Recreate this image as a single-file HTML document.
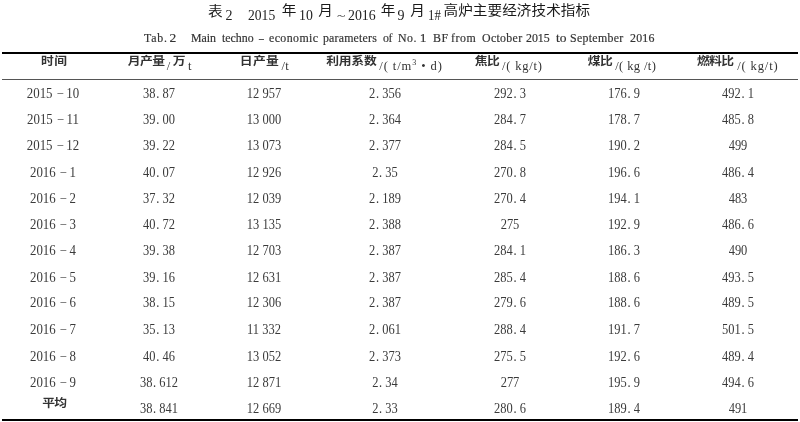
<!DOCTYPE html>
<html><head><meta charset="utf-8">
<style>
html,body{margin:0;padding:0;background:#fff;width:800px;height:422px;overflow:hidden;position:relative}
#w{position:absolute;left:0;top:0;width:800px;height:422px;filter:blur(0.4px)}
.n{position:absolute;width:120px;text-align:center;font-family:"Liberation Serif",serif;font-size:14px;line-height:14px;color:#3a3a3a;white-space:pre;transform:scale(0.89,1.0);letter-spacing:0px;text-indent:0px}
.n1{transform:scale(0.92,0.97);letter-spacing:0px;text-indent:0px}
.a{position:absolute;white-space:pre;line-height:1;transform-origin:0 0}
.rule{position:absolute;left:2px;width:796px;background:#000}
s{text-decoration:none;font-size:12.5px;position:relative;top:-2.0px;margin-left:1.8px;margin-right:0.0px}
i{font-style:normal;margin-left:0.8px}
sup{font-size:8px;vertical-align:5px;line-height:0}
</style></head><body><div id="w">
<div class="rule" style="top:52px;height:2px"></div>
<div class="rule" style="top:79px;height:1px;background:#555"></div>
<div class="rule" style="top:419px;height:2px"></div>
<span class="a" style="left:207.95px;top:4.80px;font-family:'Liberation Sans','Noto Sans CJK SC',sans-serif;font-size:14.6px;font-weight:400;color:#1a1a1a;transform:scale(1.000,0.900);">表</span>
<span class="a" style="left:225.45px;top:8.80px;font-family:'Liberation Serif',serif;font-size:14px;color:#222;">2</span>
<span class="a" style="left:248.20px;top:8.80px;font-family:'Liberation Serif',serif;font-size:14px;color:#222;transform:scale(0.971,1.000);">2015</span>
<span class="a" style="left:281.75px;top:4.20px;font-family:'Liberation Sans','Noto Sans CJK SC',sans-serif;font-size:14.6px;font-weight:400;color:#1a1a1a;transform:scale(1.000,0.900);">年</span>
<span class="a" style="left:299.22px;top:8.80px;font-family:'Liberation Serif',serif;font-size:14px;color:#222;transform:scale(0.985,1.000);">10</span>
<span class="a" style="left:318.30px;top:3.90px;font-family:'Liberation Sans','Noto Sans CJK SC',sans-serif;font-size:14.6px;font-weight:400;color:#1a1a1a;transform:scale(1.000,0.900);">月</span>
<span class="a" style="left:337.00px;top:11.00px;font-family:'Liberation Serif',serif;font-size:10px;color:#222;transform:scale(1.560,1.000);">~</span>
<span class="a" style="left:347.70px;top:8.80px;font-family:'Liberation Serif',serif;font-size:14px;color:#222;transform:scale(0.989,1.000);">2016</span>
<span class="a" style="left:380.80px;top:4.20px;font-family:'Liberation Sans','Noto Sans CJK SC',sans-serif;font-size:14.6px;font-weight:400;color:#1a1a1a;transform:scale(1.000,0.900);">年</span>
<span class="a" style="left:397.45px;top:8.80px;font-family:'Liberation Serif',serif;font-size:14px;color:#222;">9</span>
<span class="a" style="left:410.25px;top:3.90px;font-family:'Liberation Sans','Noto Sans CJK SC',sans-serif;font-size:14.6px;font-weight:400;color:#1a1a1a;transform:scale(1.000,0.900);">月</span>
<span class="a" style="left:427.98px;top:8.80px;font-family:'Liberation Serif',serif;font-size:14px;color:#222;transform:scale(0.915,1.000);">1#</span>
<span class="a" style="left:443.50px;top:4.10px;font-family:'Liberation Sans','Noto Sans CJK SC',sans-serif;font-size:14.6px;font-weight:400;color:#1a1a1a;letter-spacing:0.07px;transform:scale(1.000,0.900);">高炉主要经济技术指标</span>
<span class="a" style="left:143.56px;top:30.90px;font-family:'Liberation Serif',serif;font-size:13.5px;color:#333;-webkit-text-stroke:0.2px #333;letter-spacing:0.89px;transform:scale(0.880,1.000);">Tab.</span>
<span class="a" style="left:169.50px;top:30.90px;font-family:'Liberation Serif',serif;font-size:13.5px;color:#333;-webkit-text-stroke:0.2px #333;">2</span>
<span class="a" style="left:191.18px;top:30.90px;font-family:'Liberation Serif',serif;font-size:13.5px;color:#333;-webkit-text-stroke:0.2px #333;letter-spacing:-0.02px;transform:scale(0.880,1.000);">Main</span>
<span class="a" style="left:222.16px;top:30.90px;font-family:'Liberation Serif',serif;font-size:13.5px;color:#333;-webkit-text-stroke:0.2px #333;letter-spacing:-0.02px;transform:scale(0.880,1.000);">techno</span>
<span class="a" style="left:259.20px;top:30.90px;font-family:'Liberation Serif',serif;font-size:13.5px;color:#333;-webkit-text-stroke:0.2px #333;transform:scale(0.714,1.000);">&#8211;</span>
<span class="a" style="left:268.86px;top:30.90px;font-family:'Liberation Serif',serif;font-size:13.5px;color:#333;-webkit-text-stroke:0.2px #333;letter-spacing:0.46px;transform:scale(0.880,1.000);">economic</span>
<span class="a" style="left:323.16px;top:30.90px;font-family:'Liberation Serif',serif;font-size:13.5px;color:#333;-webkit-text-stroke:0.2px #333;letter-spacing:0.21px;transform:scale(0.880,1.000);">parameters</span>
<span class="a" style="left:382.96px;top:30.90px;font-family:'Liberation Serif',serif;font-size:13.5px;color:#333;-webkit-text-stroke:0.2px #333;letter-spacing:-0.64px;transform:scale(0.880,1.000);">of</span>
<span class="a" style="left:398.20px;top:30.90px;font-family:'Liberation Serif',serif;font-size:13.5px;color:#333;-webkit-text-stroke:0.2px #333;letter-spacing:0.50px;transform:scale(0.880,1.000);">No.</span>
<span class="a" style="left:419.70px;top:30.90px;font-family:'Liberation Serif',serif;font-size:13.5px;color:#333;-webkit-text-stroke:0.2px #333;">1</span>
<span class="a" style="left:432.52px;top:30.90px;font-family:'Liberation Serif',serif;font-size:13.5px;color:#333;-webkit-text-stroke:0.2px #333;letter-spacing:0.73px;transform:scale(0.880,1.000);">BF</span>
<span class="a" style="left:451.24px;top:30.90px;font-family:'Liberation Serif',serif;font-size:13.5px;color:#333;-webkit-text-stroke:0.2px #333;letter-spacing:0.61px;transform:scale(0.880,1.000);">from</span>
<span class="a" style="left:482.06px;top:30.90px;font-family:'Liberation Serif',serif;font-size:13.5px;color:#333;-webkit-text-stroke:0.2px #333;letter-spacing:0.36px;transform:scale(0.880,1.000);">October</span>
<span class="a" style="left:526.12px;top:30.90px;font-family:'Liberation Serif',serif;font-size:13.5px;color:#333;-webkit-text-stroke:0.2px #333;letter-spacing:-0.06px;transform:scale(0.880,1.000);">2015</span>
<span class="a" style="left:556.00px;top:30.90px;font-family:'Liberation Serif',serif;font-size:13.5px;color:#333;-webkit-text-stroke:0.2px #333;">to</span>
<span class="a" style="left:570.22px;top:30.90px;font-family:'Liberation Serif',serif;font-size:13.5px;color:#333;-webkit-text-stroke:0.2px #333;letter-spacing:0.35px;transform:scale(0.880,1.000);">September</span>
<span class="a" style="left:629.78px;top:30.90px;font-family:'Liberation Serif',serif;font-size:13.5px;color:#333;-webkit-text-stroke:0.2px #333;letter-spacing:0.24px;transform:scale(0.880,1.000);">2016</span>
<span class="a" style="left:40.90px;top:56.17px;font-family:'Liberation Sans','Noto Sans CJK SC',sans-serif;font-size:12.8px;font-weight:700;color:#333;letter-spacing:0.60px;transform:scale(1.000,0.870);">时间</span>
<span class="a" style="left:127.85px;top:56.17px;font-family:'Liberation Sans','Noto Sans CJK SC',sans-serif;font-size:12.8px;font-weight:700;color:#333;letter-spacing:-0.55px;transform:scale(1.000,0.870);">月产量</span>
<span class="a" style="left:166.75px;top:60.40px;font-family:'Liberation Serif',serif;font-size:12.5px;color:#333;">/</span>
<span class="a" style="left:172.70px;top:55.50px;font-family:'Liberation Sans','Noto Sans CJK SC',sans-serif;font-size:12.8px;font-weight:700;color:#333;transform:scale(1.000,0.870);">万</span>
<span class="a" style="left:188.00px;top:60.40px;font-family:'Liberation Serif',serif;font-size:12.5px;color:#333;">t</span>
<span class="a" style="left:239.85px;top:56.17px;font-family:'Liberation Sans','Noto Sans CJK SC',sans-serif;font-size:12.8px;font-weight:700;color:#333;letter-spacing:0.25px;transform:scale(1.000,0.870);">日产量</span>
<span class="a" style="left:281.40px;top:60.40px;font-family:'Liberation Serif',serif;font-size:12.5px;color:#333;letter-spacing:0.40px;">/t</span>
<span class="a" style="left:326.30px;top:56.27px;font-family:'Liberation Sans','Noto Sans CJK SC',sans-serif;font-size:12.8px;font-weight:700;color:#333;letter-spacing:-0.27px;transform:scale(1.000,0.870);">利用系数</span>
<span class="a" style="left:379.25px;top:60.40px;font-family:'Liberation Serif',serif;font-size:12.5px;color:#333;letter-spacing:0.92px;">/( t/m<sup>3</sup> • d)</span>
<span class="a" style="left:474.85px;top:56.07px;font-family:'Liberation Sans','Noto Sans CJK SC',sans-serif;font-size:12.8px;font-weight:700;color:#333;letter-spacing:-0.70px;transform:scale(1.000,0.870);">焦比</span>
<span class="a" style="left:502.00px;top:60.40px;font-family:'Liberation Serif',serif;font-size:12.5px;color:#333;letter-spacing:0.80px;">/( kg/t)</span>
<span class="a" style="left:587.85px;top:56.07px;font-family:'Liberation Sans','Noto Sans CJK SC',sans-serif;font-size:12.8px;font-weight:700;color:#333;letter-spacing:-0.70px;transform:scale(1.000,0.870);">煤比</span>
<span class="a" style="left:615.25px;top:60.40px;font-family:'Liberation Serif',serif;font-size:12.5px;color:#333;letter-spacing:0.39px;">/( kg /t)</span>
<span class="a" style="left:697.00px;top:56.07px;font-family:'Liberation Sans','Noto Sans CJK SC',sans-serif;font-size:12.8px;font-weight:700;color:#333;letter-spacing:-0.70px;transform:scale(1.000,0.870);">燃料比</span>
<span class="a" style="left:737.25px;top:60.40px;font-family:'Liberation Serif',serif;font-size:12.5px;color:#333;letter-spacing:0.87px;">/( kg/t)</span>
<span class="a" style="left:42.20px;top:397.97px;font-family:'Liberation Sans','Noto Sans CJK SC',sans-serif;font-size:12.8px;font-weight:700;color:#333;letter-spacing:-0.80px;transform:scale(1.000,0.870);">平均</span>
<div class="n n1" style="left:-6.70px;top:86.50px">2015 <s>&#8211;</s> 10</div>
<div class="n" style="left:98.50px;top:86.50px">38<i>.</i> 87</div>
<div class="n" style="left:204.00px;top:86.50px">12 957</div>
<div class="n" style="left:324.50px;top:86.50px">2<i>.</i> 356</div>
<div class="n" style="left:449.50px;top:86.50px">292<i>.</i> 3</div>
<div class="n" style="left:563.90px;top:86.50px">176<i>.</i> 9</div>
<div class="n" style="left:678.00px;top:86.50px">492<i>.</i> 1</div>
<div class="n n1" style="left:-6.70px;top:113.10px">2015 <s>&#8211;</s> 11</div>
<div class="n" style="left:98.50px;top:113.10px">39<i>.</i> 00</div>
<div class="n" style="left:204.00px;top:113.10px">13 000</div>
<div class="n" style="left:324.50px;top:113.10px">2<i>.</i> 364</div>
<div class="n" style="left:449.50px;top:113.10px">284<i>.</i> 7</div>
<div class="n" style="left:563.90px;top:113.10px">178<i>.</i> 7</div>
<div class="n" style="left:678.00px;top:113.10px">485<i>.</i> 8</div>
<div class="n n1" style="left:-6.70px;top:138.90px">2015 <s>&#8211;</s> 12</div>
<div class="n" style="left:98.50px;top:138.90px">39<i>.</i> 22</div>
<div class="n" style="left:204.00px;top:138.90px">13 073</div>
<div class="n" style="left:324.50px;top:138.90px">2<i>.</i> 377</div>
<div class="n" style="left:449.50px;top:138.90px">284<i>.</i> 5</div>
<div class="n" style="left:563.90px;top:138.90px">190<i>.</i> 2</div>
<div class="n" style="left:678.00px;top:138.90px">499</div>
<div class="n n1" style="left:-6.70px;top:165.60px">2016 <s>&#8211;</s> 1</div>
<div class="n" style="left:98.50px;top:165.60px">40<i>.</i> 07</div>
<div class="n" style="left:204.00px;top:165.60px">12 926</div>
<div class="n" style="left:324.50px;top:165.60px">2<i>.</i> 35</div>
<div class="n" style="left:449.50px;top:165.60px">270<i>.</i> 8</div>
<div class="n" style="left:563.90px;top:165.60px">196<i>.</i> 6</div>
<div class="n" style="left:678.00px;top:165.60px">486<i>.</i> 4</div>
<div class="n n1" style="left:-6.70px;top:191.60px">2016 <s>&#8211;</s> 2</div>
<div class="n" style="left:98.50px;top:191.60px">37<i>.</i> 32</div>
<div class="n" style="left:204.00px;top:191.60px">12 039</div>
<div class="n" style="left:324.50px;top:191.60px">2<i>.</i> 189</div>
<div class="n" style="left:449.50px;top:191.60px">270<i>.</i> 4</div>
<div class="n" style="left:563.90px;top:191.60px">194<i>.</i> 1</div>
<div class="n" style="left:678.00px;top:191.60px">483</div>
<div class="n n1" style="left:-6.70px;top:217.60px">2016 <s>&#8211;</s> 3</div>
<div class="n" style="left:98.50px;top:217.60px">40<i>.</i> 72</div>
<div class="n" style="left:204.00px;top:217.60px">13 135</div>
<div class="n" style="left:324.50px;top:217.60px">2<i>.</i> 388</div>
<div class="n" style="left:449.50px;top:217.60px">275</div>
<div class="n" style="left:563.90px;top:217.60px">192<i>.</i> 9</div>
<div class="n" style="left:678.00px;top:217.60px">486<i>.</i> 6</div>
<div class="n n1" style="left:-6.70px;top:243.60px">2016 <s>&#8211;</s> 4</div>
<div class="n" style="left:98.50px;top:243.60px">39<i>.</i> 38</div>
<div class="n" style="left:204.00px;top:243.60px">12 703</div>
<div class="n" style="left:324.50px;top:243.60px">2<i>.</i> 387</div>
<div class="n" style="left:449.50px;top:243.60px">284<i>.</i> 1</div>
<div class="n" style="left:563.90px;top:243.60px">186<i>.</i> 3</div>
<div class="n" style="left:678.00px;top:243.60px">490</div>
<div class="n n1" style="left:-6.70px;top:270.70px">2016 <s>&#8211;</s> 5</div>
<div class="n" style="left:98.50px;top:270.70px">39<i>.</i> 16</div>
<div class="n" style="left:204.00px;top:270.70px">12 631</div>
<div class="n" style="left:324.50px;top:270.70px">2<i>.</i> 387</div>
<div class="n" style="left:449.50px;top:270.70px">285<i>.</i> 4</div>
<div class="n" style="left:563.90px;top:270.70px">188<i>.</i> 6</div>
<div class="n" style="left:678.00px;top:270.70px">493<i>.</i> 5</div>
<div class="n n1" style="left:-6.70px;top:296.10px">2016 <s>&#8211;</s> 6</div>
<div class="n" style="left:98.50px;top:296.10px">38<i>.</i> 15</div>
<div class="n" style="left:204.00px;top:296.10px">12 306</div>
<div class="n" style="left:324.50px;top:296.10px">2<i>.</i> 387</div>
<div class="n" style="left:449.50px;top:296.10px">279<i>.</i> 6</div>
<div class="n" style="left:563.90px;top:296.10px">188<i>.</i> 6</div>
<div class="n" style="left:678.00px;top:296.10px">489<i>.</i> 5</div>
<div class="n n1" style="left:-6.70px;top:322.70px">2016 <s>&#8211;</s> 7</div>
<div class="n" style="left:98.50px;top:322.70px">35<i>.</i> 13</div>
<div class="n" style="left:204.00px;top:322.70px">11 332</div>
<div class="n" style="left:324.50px;top:322.70px">2<i>.</i> 061</div>
<div class="n" style="left:449.50px;top:322.70px">288<i>.</i> 4</div>
<div class="n" style="left:563.90px;top:322.70px">191<i>.</i> 7</div>
<div class="n" style="left:678.00px;top:322.70px">501<i>.</i> 5</div>
<div class="n n1" style="left:-6.70px;top:349.70px">2016 <s>&#8211;</s> 8</div>
<div class="n" style="left:98.50px;top:349.70px">40<i>.</i> 46</div>
<div class="n" style="left:204.00px;top:349.70px">13 052</div>
<div class="n" style="left:324.50px;top:349.70px">2<i>.</i> 373</div>
<div class="n" style="left:449.50px;top:349.70px">275<i>.</i> 5</div>
<div class="n" style="left:563.90px;top:349.70px">192<i>.</i> 6</div>
<div class="n" style="left:678.00px;top:349.70px">489<i>.</i> 4</div>
<div class="n n1" style="left:-6.70px;top:376.20px">2016 <s>&#8211;</s> 9</div>
<div class="n" style="left:98.50px;top:376.20px">38<i>.</i> 612</div>
<div class="n" style="left:204.00px;top:376.20px">12 871</div>
<div class="n" style="left:324.50px;top:376.20px">2<i>.</i> 34</div>
<div class="n" style="left:449.50px;top:376.20px">277</div>
<div class="n" style="left:563.90px;top:376.20px">195<i>.</i> 9</div>
<div class="n" style="left:678.00px;top:376.20px">494<i>.</i> 6</div>
<div class="n" style="left:98.50px;top:401.90px">38<i>.</i> 841</div>
<div class="n" style="left:204.00px;top:401.90px">12 669</div>
<div class="n" style="left:324.50px;top:401.90px">2<i>.</i> 33</div>
<div class="n" style="left:449.50px;top:401.90px">280<i>.</i> 6</div>
<div class="n" style="left:563.90px;top:401.90px">189<i>.</i> 4</div>
<div class="n" style="left:678.00px;top:401.90px">491</div>
</div></body></html>
